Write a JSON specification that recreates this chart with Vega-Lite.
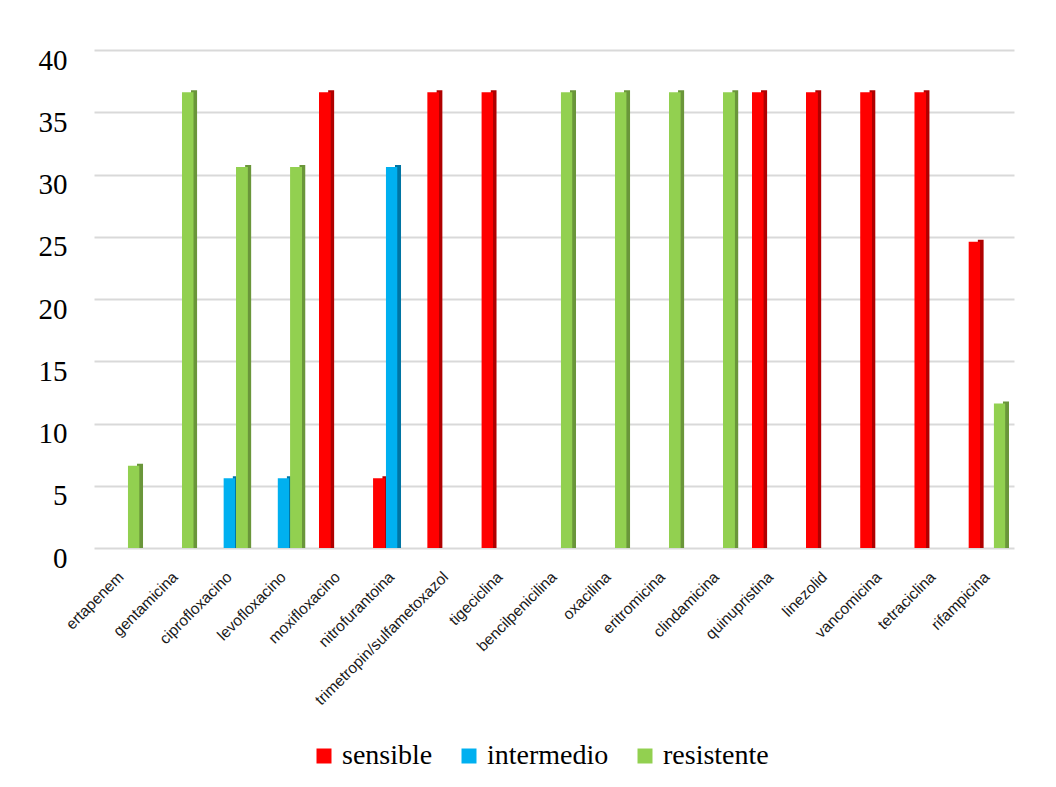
{
  "$schema": "https://vega.github.io/schema/vega-lite/v6.json",
  "autosize": "none",
  "width": 930,
  "height": 498,
  "padding": {"left": 94, "top": 50, "right": 32, "bottom": 239},
  "background": "white",
  "data": {
    "values": [
      {"antibiotico": "ertapenem", "categoria": "resistente", "n": 7},
      {"antibiotico": "gentamicina", "categoria": "resistente", "n": 37},
      {"antibiotico": "ciprofloxacino", "categoria": "intermedio", "n": 6},
      {"antibiotico": "ciprofloxacino", "categoria": "resistente", "n": 31},
      {"antibiotico": "levofloxacino", "categoria": "intermedio", "n": 6},
      {"antibiotico": "levofloxacino", "categoria": "resistente", "n": 31},
      {"antibiotico": "moxifloxacino", "categoria": "sensible", "n": 37},
      {"antibiotico": "nitrofurantoina", "categoria": "sensible", "n": 6},
      {"antibiotico": "nitrofurantoina", "categoria": "intermedio", "n": 31},
      {"antibiotico": "trimetropin/sulfametoxazol", "categoria": "sensible", "n": 37},
      {"antibiotico": "tigeciclina", "categoria": "sensible", "n": 37},
      {"antibiotico": "bencilpenicilina", "categoria": "resistente", "n": 37},
      {"antibiotico": "oxacilina", "categoria": "resistente", "n": 37},
      {"antibiotico": "eritromicina", "categoria": "resistente", "n": 37},
      {"antibiotico": "clindamicina", "categoria": "resistente", "n": 37},
      {"antibiotico": "quinupristina", "categoria": "sensible", "n": 37},
      {"antibiotico": "linezolid", "categoria": "sensible", "n": 37},
      {"antibiotico": "vancomicina", "categoria": "sensible", "n": 37},
      {"antibiotico": "tetraciclina", "categoria": "sensible", "n": 37},
      {"antibiotico": "rifampicina", "categoria": "sensible", "n": 25},
      {"antibiotico": "rifampicina", "categoria": "resistente", "n": 12}
    ]
  },
  "encoding": {
    "x": {
      "field": "antibiotico",
      "type": "nominal",
      "sort": ["ertapenem", "gentamicina", "ciprofloxacino", "levofloxacino", "moxifloxacino", "nitrofurantoina", "trimetropin/sulfametoxazol", "tigeciclina", "bencilpenicilina", "oxacilina", "eritromicina", "clindamicina", "quinupristina", "linezolid", "vancomicina", "tetraciclina", "rifampicina"],
      "scale": {"range": [0, 920], "paddingInner": 0.3, "paddingOuter": 0.15},
      "axis": {
        "title": null,
        "domain": false,
        "ticks": false,
        "labelAngle": -45,
        "labelAlign": "right",
        "labelBaseline": "middle",
        "labelPadding": 26,
        "labelFont": "Liberation Sans",
        "labelFontSize": 15.5,
        "labelColor": "#1a1a1a",
        "labelLimit": 300
      }
    },
    "xOffset": {
      "field": "categoria",
      "type": "nominal",
      "scale": {"domain": ["sensible", "intermedio", "resistente"], "paddingInner": 0, "paddingOuter": 0}
    },
    "y": {
      "field": "n",
      "type": "quantitative",
      "scale": {"domain": [0, 40]},
      "axis": {
        "title": null,
        "domain": false,
        "ticks": false,
        "values": [0, 5, 10, 15, 20, 25, 30, 35, 40],
        "grid": true,
        "gridColor": "#d9d9d9",
        "gridWidth": 2,
        "labelFont": "Liberation Serif",
        "labelFontSize": 29,
        "labelColor": "#000000",
        "labelPadding": 27,
        "labelOffset": 10
      }
    }
  },
  "layer": [
    {
      "mark": {"type": "bar", "width": {"band": 0.5}, "yOffset": 3, "cornerRadiusTopRight": 2},
      "encoding": {
        "color": {
          "field": "categoria",
          "type": "nominal",
          "scale": {"domain": ["sensible", "intermedio", "resistente"], "range": ["#b00000", "#0075a3", "#6a963a"]},
          "legend": null
        }
      }
    },
    {
      "mark": {"type": "bar", "width": 12, "yOffset": 5, "cornerRadiusTopLeft": 2},
      "encoding": {
        "color": {
          "field": "categoria",
          "type": "nominal",
          "scale": {"domain": ["sensible", "intermedio", "resistente"], "range": ["#ff0000", "#00b0f0", "#92d050"]},
          "legend": {
            "title": null,
            "orient": "none",
            "legendX": 216,
            "legendY": 692,
            "direction": "horizontal",
            "symbolType": "square",
            "symbolSize": 225,
            "symbolStrokeWidth": 0,
            "labelFont": "Liberation Serif",
            "labelFontSize": 28,
            "labelColor": "#000000",
            "labelOffset": 4,
            "columnPadding": 22
          }
        }
      }
    }
  ],
  "resolve": {"scale": {"color": "independent"}, "legend": {"color": "independent"}},
  "config": {
    "view": {"stroke": null}
  }
}
